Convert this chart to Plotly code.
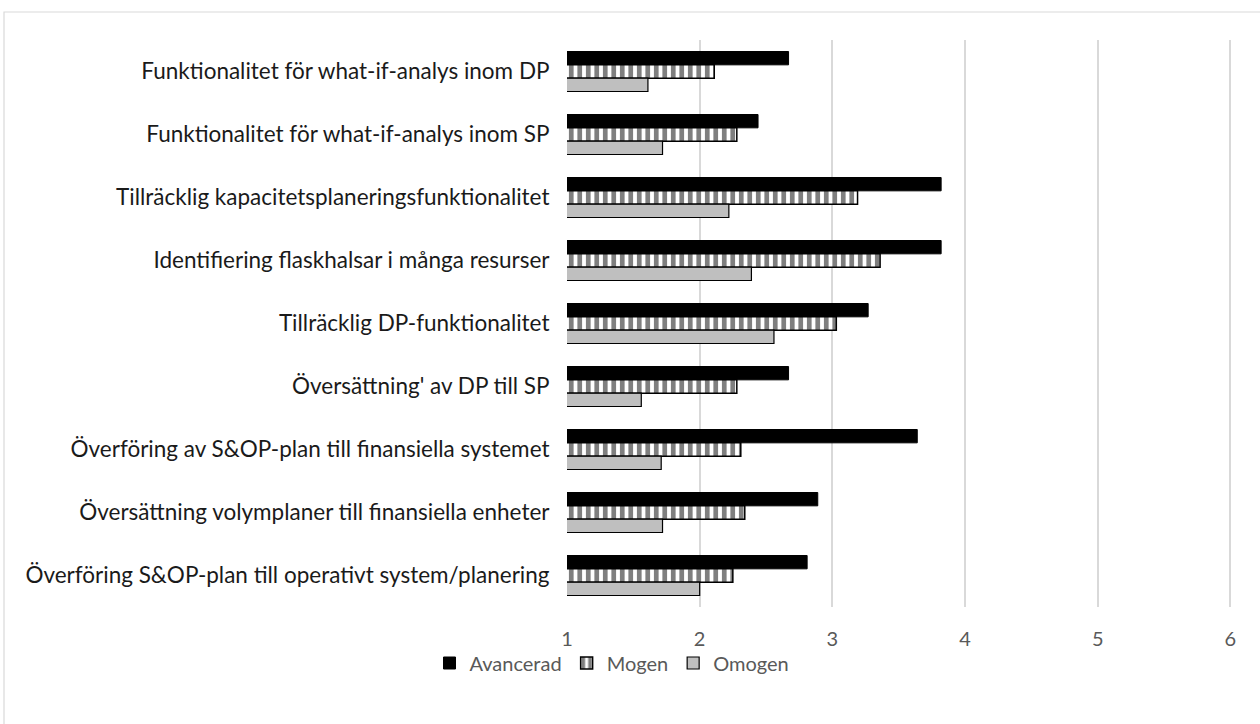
import plotly.graph_objects as go

categories = [
    "Funktionalitet för what-if-analys inom DP",
    "Funktionalitet för what-if-analys inom SP",
    "Tillräcklig kapacitetsplaneringsfunktionalitet",
    "Identifiering flaskhalsar i många resurser",
    "Tillräcklig DP-funktionalitet",
    "Översättning' av DP till SP",
    "Överföring av S&OP-plan till finansiella systemet",
    "Översättning volymplaner till finansiella enheter",
    "Överföring S&OP-plan till operativt system/planering",
]

avancerad = [2.67, 2.44, 3.82, 3.82, 3.27, 2.67, 3.64, 2.89, 2.81]
mogen = [2.11, 2.28, 3.19, 3.36, 3.03, 2.28, 2.31, 2.34, 2.25]
omogen = [1.61, 1.72, 2.22, 2.39, 2.56, 1.56, 1.71, 1.72, 2.00]

x_ticks = [1, 2, 3, 4, 5, 6]

fig = go.Figure()

fig.add_trace(go.Bar(
    name="Avancerad", y=categories, x=avancerad, orientation="h",
    marker=dict(color="#000000", line=dict(color="#000000", width=1)),
))
fig.add_trace(go.Bar(
    name="Mogen", y=categories, x=mogen, orientation="h",
    marker=dict(
        color="#ffffff",
        line=dict(color="#000000", width=1.5),
        pattern=dict(shape="|", fgcolor="#000000", bgcolor="#ffffff",
                     size=8.5, solidity=0.55, fillmode="overlay"),
    ),
))
fig.add_trace(go.Bar(
    name="Omogen", y=categories, x=omogen, orientation="h",
    marker=dict(color="#bfbfbf", line=dict(color="#000000", width=1.2)),
))

# plot area spans x 567..1233, y 40..607 in a 1260x724 page
L, R, T, B = 567, 27, 40, 117
W, H = 1260, 724
pw, ph = W - L - R, H - T - B

legend_center_px = 612
legend_mid_px = 663

fig.update_layout(
    width=W, height=H,
    margin=dict(l=L, r=R, t=T, b=B),
    paper_bgcolor="#ffffff",
    plot_bgcolor="#ffffff",
    barmode="group",
    bargap=0.365,
    bargroupgap=0,
    font=dict(family="Lato, Open Sans, sans-serif", size=16, color="#595959"),
    legend=dict(
        orientation="h",
        x=(legend_center_px - L) / pw, xanchor="center",
        y=(H - B - legend_mid_px) / ph, yanchor="middle",
        font=dict(size=20, color="#595959"),
        bgcolor="rgba(0,0,0,0)",
        traceorder="normal", itemwidth=30,
    ),
    xaxis=dict(
        range=[1, 6.02], tickvals=x_ticks, ticktext=[str(v) for v in x_ticks],
        showgrid=True, gridcolor="#d9d9d9", gridwidth=1.5,
        zeroline=False, showline=False,
        ticks="outside", ticklen=14, tickcolor="rgba(0,0,0,0)",
        tickfont=dict(size=20, color="#595959"),
    ),
    yaxis=dict(
        autorange="reversed",
        showgrid=False, zeroline=False, showline=False,
        ticks="outside", ticklen=12, tickcolor="rgba(0,0,0,0)",
        tickfont=dict(size=22.5, color="#1a1a1a"),
    ),
    shapes=[dict(
        type="rect", xref="paper", yref="paper",
        x0=(4 - L) / pw, x1=(1262 - L) / pw,
        y0=(H - B - 726) / ph, y1=(H - B - 12) / ph,
        line=dict(color="#d9d9d9", width=1.2), fillcolor="rgba(0,0,0,0)",
        layer="below",
    )],
)

fig.write_html("out.html")
